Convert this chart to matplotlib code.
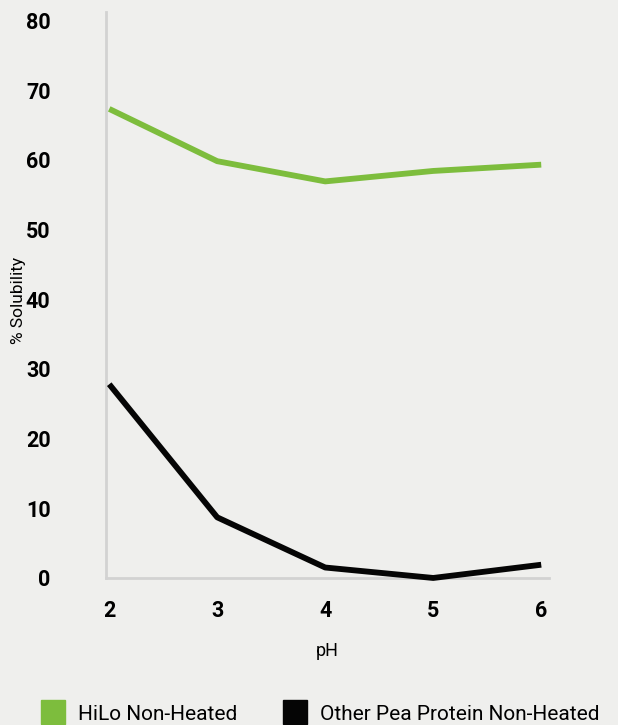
import matplotlib.pyplot as plt
from matplotlib.lines import Line2D

# data
ph = [2, 3, 4, 5, 6]
hilo = [67.3, 59.8, 56.9, 58.4, 59.3]
other = [27.8, 8.7, 1.5, 0.0, 1.9]
series_names = ['HiLo Non-Heated', 'Other Pea Protein Non-Heated']
y_ticks = [0, 10, 20, 30, 40, 50, 60, 70, 80]

bg = '#efefed'
green = '#7dbd3d'
black = '#050505'

plt.rcParams['font.family'] = ['Roboto', 'DejaVu Sans']

fig = plt.figure(figsize=(6.18, 7.25), dpi=100, facecolor=bg)
ax = fig.add_axes([0.1715, 0.2028, 0.7165, 0.7806])
ax.set_facecolor(bg)

ax.plot(ph, hilo, color=green, lw=4.2, solid_capstyle='butt', solid_joinstyle='round', clip_on=False)
ax.plot(ph, other, color=black, lw=4.2, solid_capstyle='butt', solid_joinstyle='round', clip_on=False)

ax.set_xlim(1.97, 6.07)
ax.set_ylim(0, 81.2)
ax.set_xticks(ph)
ax.set_yticks(y_ticks)
ax.tick_params(length=0, labelsize=15.5)
for lab in ax.get_xticklabels() + ax.get_yticklabels():
    lab.set_fontweight('bold')
ax.tick_params(axis='y', pad=40)
ax.tick_params(axis='x', pad=16)

for s in ['top', 'right']:
    ax.spines[s].set_visible(False)
for s in ['left', 'bottom']:
    ax.spines[s].set_color('#d2d2d2')
    ax.spines[s].set_linewidth(2)
    ax.spines[s].set_zorder(0)

ax.set_xlabel('pH', fontsize=13, labelpad=14)
fig.text(0.03, 0.586, '% Solubility', rotation=90, fontsize=12.5, ha='center', va='center')

handles = [Line2D([], [], marker='s', ls='', color=green, markersize=17),
           Line2D([], [], marker='s', ls='', color=black, markersize=17)]
fig.legend(handles, series_names, ncol=2, loc='lower left', bbox_to_anchor=(0.035, -0.024),
           frameon=False, fontsize=15, handletextpad=0.6, columnspacing=2.2, handlelength=1.2)

fig.savefig('out.png', dpi=100, facecolor=bg)
